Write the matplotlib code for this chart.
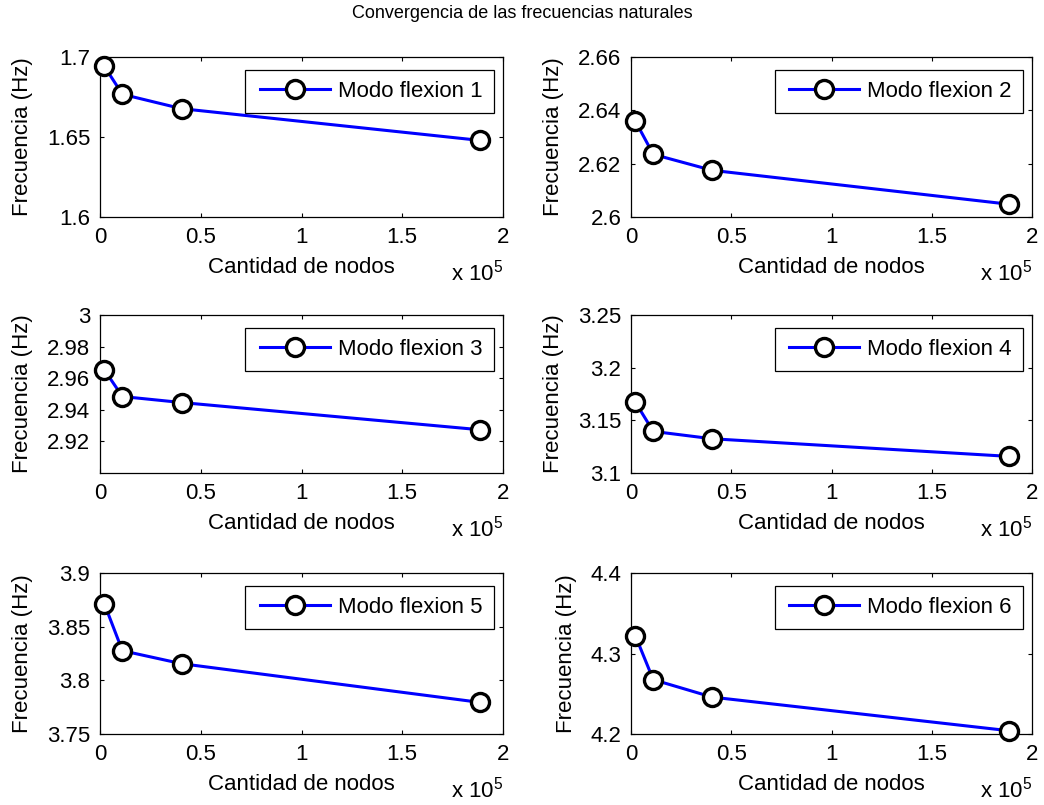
import matplotlib
matplotlib.use("Agg")
import matplotlib.pyplot as plt
from matplotlib.legend_handler import HandlerLine2D
import numpy as np

plt.rcParams['font.family'] = ['Liberation Sans', 'DejaVu Sans']
plt.rcParams['mathtext.default'] = 'regular'

nodes = [2150, 11100, 40500, 188400]
modes = ["Modo flexion 1", "Modo flexion 2", "Modo flexion 3",
         "Modo flexion 4", "Modo flexion 5", "Modo flexion 6"]
freq1 = [1.6942, 1.6767, 1.6677, 1.6479]
freq2 = [2.6360, 2.6235, 2.6175, 2.6048]
freq3 = [2.9653, 2.9484, 2.9446, 2.9274]
freq4 = [3.1673, 3.1395, 3.1325, 3.1158]
freq5 = [3.8714, 3.8276, 3.8155, 3.7795]
freq6 = [4.3222, 4.2675, 4.2458, 4.2041]
freqs = [freq1, freq2, freq3, freq4, freq5, freq6]
ylims = [(1.6, 1.7), (2.6, 2.66), (2.9, 3.0), (3.1, 3.25), (3.75, 3.9), (4.2, 4.4)]
yticks = [[1.6, 1.65, 1.7], [2.6, 2.62, 2.64, 2.66], [2.92, 2.94, 2.96, 2.98, 3.0],
          [3.1, 3.15, 3.2, 3.25], [3.75, 3.8, 3.85, 3.9], [4.2, 4.3, 4.4]]
yticklabels = [["1.6", "1.65", "1.7"], ["2.6", "2.62", "2.64", "2.66"],
               ["2.92", "2.94", "2.96", "2.98", "3"],
               ["3.1", "3.15", "3.2", "3.25"], ["3.75", "3.8", "3.85", "3.9"],
               ["4.2", "4.3", "4.4"]]
xticks = [0, 0.5, 1, 1.5, 2]
xticklabels = ["0", "0.5", "1", "1.5", "2"]

W, H = 1044, 805
fig = plt.figure(figsize=(W / 100, H / 100), dpi=100)

cols = [(100, 503), (631, 1032)]
rows = [(57, 217), (315, 473), (573, 734)]

fs = 16
for i in range(6):
    r, c = divmod(i, 2)
    x0, x1 = cols[c]
    y0, y1 = rows[r]
    aw, ah = x1 - x0, y1 - y0
    ax = fig.add_axes([x0 / W, 1 - y1 / H, aw / W, ah / H])
    xs = np.array(nodes) / 1e5
    ax.plot(xs, freqs[i], '-o', color='#0000ff', lw=2.2, ms=13,
            markerfacecolor='white', markeredgecolor='black', mew=2.4,
            label=modes[i], clip_on=False, zorder=3)
    ax.set_xlim(0, 2)
    ax.set_ylim(*ylims[i])
    ax.set_xticks(xticks)
    ax.set_xticklabels(xticklabels)
    ax.set_yticks(yticks[i])
    ax.set_yticklabels(yticklabels[i])
    ax.tick_params(direction='in', top=True, right=True, labelsize=fs,
                   length=3, width=0.8, pad=7)
    for s in ax.spines.values():
        s.set_linewidth(0.9)
    ax.set_xlabel("Cantidad de nodos", fontsize=fs, labelpad=7)
    ax.set_ylabel("Frecuencia (Hz)", fontsize=fs, labelpad=10)
    leg = ax.legend(loc='upper right', fontsize=fs, fancybox=False,
                    edgecolor='black', framealpha=1,
                    bbox_to_anchor=(1 - 9 / aw, 1 - 13 / ah), borderaxespad=0,
                    handlelength=3.3, handletextpad=0.38, borderpad=0.5,
                    handler_map={plt.Line2D: HandlerLine2D(xpad=0.15)})
    leg.get_frame().set_linewidth(0.9)
    ax.annotate(r"x 10$^5$", xy=(1.0, 0.0), xycoords='axes fraction',
                xytext=(0, -31), textcoords='offset points',
                ha='right', va='top', fontsize=fs)

fig.text(522 / W, 1 - 14 / H, "Convergencia de las frecuencias naturales",
         ha='center', va='center', fontsize=13)

fig.savefig("out.png", dpi=100)
